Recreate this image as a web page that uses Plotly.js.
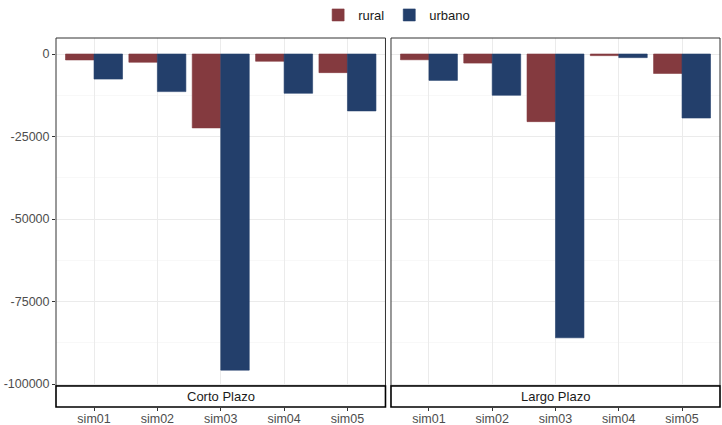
<!DOCTYPE html>
<html>
<head>
<meta charset="utf-8">
<script src="https://cdn.plot.ly/plotly-3.0.1.min.js"></script>
<style>body{margin:0;background:#fff}</style>
</head>
<body>
<div id="chart" style="width:722px;height:425px"></div>
<script>
var categories = ['sim01', 'sim02', 'sim03', 'sim04', 'sim05'];
var panels = ['Corto Plazo', 'Largo Plazo'];
var cortoRural = [-1800, -2500, -22400, -2200, -5650];
var cortoUrbano = [-7600, -11400, -95800, -11900, -17250];
var largoRural = [-1750, -2750, -20500, -500, -5900];
var largoUrbano = [-8000, -12500, -86000, -1100, -19400];
var yTickVals = [0, -25000, -50000, -75000, -100000];
var yTickText = ['0', '-25000', '-50000', '-75000', '-100000'];

var colRural = '#843a3f';
var colUrbano = '#233f6b';

function makeBar(name, values, color, xa, ya, legend) {
  return {
    name: name,
    x: categories,
    y: values,
    type: 'bar',
    xaxis: xa,
    yaxis: ya,
    showlegend: legend,
    marker: {color: color, line: {color: color, width: 0.6}},
    hoverinfo: 'x+y+name'
  };
}

var data = [
  makeBar('rural', cortoRural, colRural, 'x', 'y', true),
  makeBar('urbano', cortoUrbano, colUrbano, 'x', 'y', true),
  makeBar('rural', largoRural, colRural, 'x2', 'y2', false),
  makeBar('urbano', largoUrbano, colUrbano, 'x2', 'y2', false)
];

var font = {family: 'Liberation Sans, Arial, sans-serif', size: 12.5, color: '#4d4d4d'};
var yRange = [-106970, 4848];
var stripTop = 0.057;

function xAxis(domain, anchor) {
  return {
    domain: domain,
    anchor: anchor,
    type: 'category',
    range: [-0.6, 4.6],
    showgrid: true,
    gridcolor: '#ebebeb',
    gridwidth: 1,
    zeroline: false,
    showline: false,
    ticks: 'outside',
    ticklen: 3,
    tickcolor: '#333333',
    tickfont: font,
    ticklabelstandoff: -3,
    fixedrange: true
  };
}

function yAxis(anchor, labels) {
  return {
    anchor: anchor,
    domain: [0, 1],
    range: yRange,
    tickmode: 'array',
    tickvals: yTickVals,
    ticktext: yTickText,
    showgrid: true,
    gridcolor: '#ebebeb',
    gridwidth: 1,
    minor: {tickmode: 'linear', dtick: 12500, tick0: 0, showgrid: true, gridcolor: '#f3f3f3', gridwidth: 0.6},
    zeroline: false,
    showline: false,
    showticklabels: labels,
    ticks: labels ? 'outside' : '',
    ticklen: 3,
    tickcolor: '#333333',
    tickfont: font,
    fixedrange: true
  };
}

var shapes = [];
var annotations = [];
['x', 'x2'].forEach(function (xa, i) {
  // panel border
  shapes.push({type: 'rect', xref: xa + ' domain', yref: 'paper', x0: 0, x1: 1, y0: stripTop, y1: 1,
    line: {color: '#333333', width: 1}, fillcolor: 'rgba(0,0,0,0)', layer: 'above'});
  // strip below the panel
  shapes.push({type: 'rect', xref: xa + ' domain', yref: 'paper', x0: 0, x1: 1, y0: 0, y1: stripTop,
    line: {color: '#000000', width: 1.6}, fillcolor: '#ffffff', layer: 'above'});
  annotations.push({xref: xa + ' domain', yref: 'paper', x: 0.5, y: stripTop / 2, yanchor: 'middle',
    text: panels[i], showarrow: false,
    font: {family: 'Liberation Sans, Arial, sans-serif', size: 13, color: '#1a1a1a'}});
});

var layout = {
  width: 722,
  height: 425,
  margin: {l: 56, r: 2, t: 38, b: 18},
  paper_bgcolor: '#ffffff',
  plot_bgcolor: '#ffffff',
  font: font,
  barmode: 'group',
  bargap: 0.1,
  bargroupgap: 0,
  xaxis: xAxis([0, 0.4962], 'y'),
  xaxis2: xAxis([0.5045, 1], 'y2'),
  yaxis: yAxis('x', true),
  yaxis2: yAxis('x2', false),
  shapes: shapes,
  annotations: annotations,
  legend: {
    orientation: 'h',
    x: 0.513,
    xanchor: 'center',
    y: 1,
    yanchor: 'top',
    yref: 'container',
    font: {family: 'Liberation Sans, Arial, sans-serif', size: 13, color: '#1a1a1a'},
    itemwidth: 30
  }
};

Plotly.newPlot('chart', data, layout, {displayModeBar: false, staticPlot: true});
</script>
</body>
</html>
